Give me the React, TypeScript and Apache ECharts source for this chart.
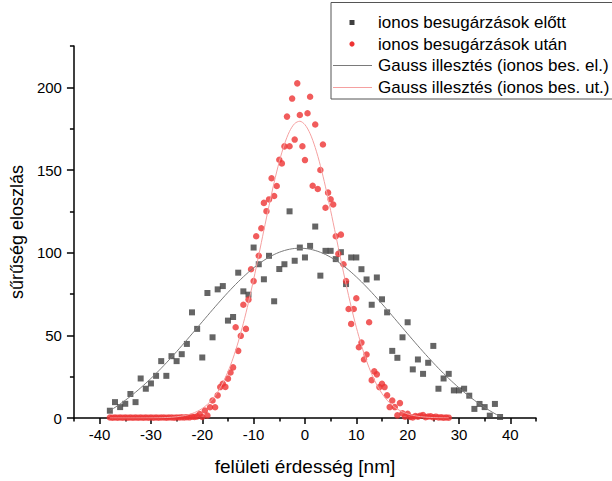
import React, { useEffect, useRef } from "react";
import * as echarts from "echarts";

// ---- data ----
const beforeX = [-38, -37, -36, -35, -34, -33, -32, -31, -30, -29, -28, -27, -26, -25, -24, -23, -22, -21, -20, -19, -18, -17, -16, -15, -14, -13, -12, -11, -10, -9, -8, -7, -6, -5, -4, -3, -2, -1, 0, 1, 2, 3, 4, 5, 6, 7, 8, 9, 10, 11, 12, 13, 14, 15, 16, 17, 18, 19, 20, 21, 22, 23, 24, 25, 26, 27, 28, 29, 30, 31, 32, 33, 34, 35, 36, 37, 38];
const beforeY = [4.4, 9.6, 6.6, 8.6, 14.5, 9.6, 23.9, 17.7, 20.9, 25.5, 34.4, 25.5, 37.4, 34.4, 38.6, 44.8, 63.9, 53.9, 36.6, 75.6, 48.8, 77.8, 79.8, 58.9, 61.1, 87.9, 76.6, 74.6, 103.1, 93, 83.9, 98.1, 70.6, 90.1, 93, 125, 95.1, 103.1, 97.1, 104.1, 115.8, 86.1, 101.1, 101.1, 96.1, 100.3, 81, 97.1, 97.1, 90, 83.8, 68.5, 85, 71.8, 63.9, 40.6, 36.4, 48.8, 57.9, 29.4, 35.4, 26.7, 33.4, 43.6, 17.7, 23.9, 26.7, 16.7, 16.7, 17.7, 13.5, 5.5, 8.5, 6.6, 1.4, 8.5, 0.6];

const afterX = [-38, -37.5, -37, -36.5, -36, -35.5, -35, -34.5, -34, -33.5, -33, -32.5, -32, -31.5, -31, -30.5, -30, -29.5, -29, -28.5, -28, -27.5, -27, -26.5, -26, -25.5, -25, -24.5, -24, -23.5, -23, -22.5, -22, -21.5, -21, -20.5, -20, -19.5, -19, -18.5, -18, -17.5, -17, -16.5, -16, -15.5, -15, -14.5, -14, -13.5, -13, -12.5, -12, -11.5, -11, -10.5, -10, -9.5, -9, -8.5, -8, -7.5, -7, -6.5, -6, -5.5, -5, -4.5, -4, -3.5, -3, -2.5, -2, -1.5, -1, -0.5, 0, 0.5, 1, 1.5, 2, 2.5, 3, 3.5, 4, 4.5, 5, 5.5, 6, 6.5, 7, 7.5, 8, 8.5, 9, 9.5, 10, 10.5, 11, 11.5, 12, 12.5, 13, 13.5, 14, 14.5, 15, 15.5, 16, 16.5, 17, 17.5, 18, 18.5, 19, 19.5, 20, 20.5, 21, 21.5, 22, 22.5, 23, 23.5, 24, 24.5, 25, 25.5, 26, 26.5, 27, 27.5, 28];
const afterY = [0.3, 0.2, 0.3, 0.2, 0.3, 0.2, 0.3, 0.2, 0.3, 0.2, 0.3, 0.2, 0.3, 0.2, 0.3, 0.2, 0.3, 0.2, 0.3, 0.2, 0.3, 0.3, 0.2, 0.3, 0.3, 0.2, 0.3, 0.3, 0.4, 0.3, 0.5, 0.4, 0.8, 0.6, 1.0, 2.4, 0.6, 4.5, 1.5, 6.5, 10.6, 6.5, 13.7, 18.7, 20.7, 18.8, 23.8, 27.5, 30.6, 54.9, 40.6, 49.7, 68.5, 53.9, 71.6, 90, 82.8, 109.9, 98.1, 114.8, 130.1, 125.1, 132.2, 145, 134.3, 140.3, 156.2, 154, 164.3, 182.3, 164.4, 193.2, 168.4, 202.4, 183.3, 164.4, 156, 184.3, 194.3, 140.5, 177.5, 138.5, 150, 165.4, 127.2, 136.3, 132.3, 129.1, 109.9, 99.3, 110.9, 93, 82.8, 65.9, 56.9, 65.9, 72.4, 42.8, 45.6, 35.4, 38.4, 57.9, 22.9, 28.2, 26.4, 18.7, 20.7, 18.7, 13.7, 6.6, 10.6, 6.6, 1.6, 9.0, 2.8, 0.8, 2.6, 0.6, 0.3, 1.2, 0.8, 1.4, 1.8, 0.5, 0.9, 1.0, 0.4, 0.8, 0.3, 0.4, 0.2, 0.3, 0.2];

const fitBeforeX = [-38, -37, -36, -35, -34, -33, -32, -31, -30, -29, -28, -27, -26, -25, -24, -23, -22, -21, -20, -19, -18, -17, -16, -15, -14, -13, -12, -11, -10, -9, -8, -7, -6, -5, -4, -3, -2, -1, 0, 1, 2, 3, 4, 5, 6, 7, 8, 9, 10, 11, 12, 13, 14, 15, 16, 17, 18, 19, 20, 21, 22, 23, 24, 25, 26, 27, 28, 29, 30, 31, 32, 33, 34, 35, 36, 37, 38];
const fitBeforeY = [4.43, 6.39, 8.48, 10.72, 13.08, 15.59, 18.24, 21.02, 23.92, 26.95, 30.1, 33.36, 36.72, 40.15, 43.67, 47.26, 50.88, 54.54, 58.2, 61.85, 65.47, 69.04, 72.53, 75.95, 79.23, 82.39, 85.37, 88.19, 90.8, 93.19, 95.35, 97.25, 98.89, 100.24, 101.31, 102.08, 102.54, 102.7, 102.54, 102.08, 101.31, 100.24, 98.89, 97.25, 95.35, 93.19, 90.8, 88.19, 85.37, 82.39, 79.23, 75.95, 72.53, 69.04, 65.47, 61.85, 58.2, 54.54, 50.88, 47.26, 43.67, 40.15, 36.72, 33.36, 30.1, 26.95, 23.92, 21.02, 18.24, 15.59, 13.08, 10.72, 8.48, 6.39, 4.43, 2.6, 0.9];

const fitAfterX = [-38, -37, -36, -35, -34, -33, -32, -31, -30, -29, -28, -27, -26, -25, -24, -23, -22, -21, -20, -19, -18, -17, -16, -15, -14, -13, -12, -11, -10, -9, -8, -7, -6, -5, -4, -3, -2, -1, 0, 1, 2, 3, 4, 5, 6, 7, 8, 9, 10, 11, 12, 13, 14, 15, 16, 17, 18, 19, 20, 21, 22, 23, 24, 25, 26, 27, 28];
const fitAfterY = [0, 0, 0, 0, 0, 0, 0.01, 0.03, 0.05, 0.1, 0.17, 0.28, 0.46, 0.74, 1.16, 1.78, 2.69, 3.98, 5.79, 8.24, 11.52, 15.79, 21.23, 28.0, 36.2, 46.0, 57.3, 69.9, 83.8, 98.5, 113.6, 128.4, 142.5, 155.1, 165.6, 173.4, 178.1, 179.5, 177.4, 172.0, 163.6, 152.7, 139.8, 125.5, 110.6, 95.5, 81.0, 67.3, 54.9, 43.9, 34.5, 26.5, 20.0, 14.8, 10.8, 7.7, 5.4, 3.69, 2.48, 1.64, 1.06, 0.67, 0.42, 0.26, 0.15, 0.09, 0.05];

const xMajorTicks = [-40, -30, -20, -10, 0, 10, 20, 30, 40];
const xMinorTicks = [-45, -35, -25, -15, -5, 5, 15, 25, 35, 45];
const yMajorTicks = [0, 50, 100, 150, 200];
const yMinorTicks = [25, 75, 125, 175, 225];

const legendLabels = [
  "ionos besugárzások előtt",
  "ionos besugárzások után",
  "Gauss illesztés (ionos bes. el.)",
  "Gauss illesztés (ionos bes. ut.)",
];

const FONT = "'Liberation Sans', Arial, sans-serif";
const BLACK_PT = "#3f3f3f";
const RED_PT = "#ee3333";
const BLACK_FIT = "#7a7a7a";
const RED_FIT = "#f5a0a0";

const zip = (xs: number[], ys: number[]) => xs.map((x, i) => [x, ys[i]]);

export default function App() {
  const ref = useRef<HTMLDivElement>(null);
  useEffect(() => {
    const chart = echarts.init(ref.current!, null, { renderer: "svg" });
    const axisLineStyle = { color: "#000", width: 1.5 };
    const legendRows = [22.5, 44, 65.5, 87.5];
    chart.setOption({
      animation: false,
      backgroundColor: "#fff",
      grid: { left: 71, right: 76, top: 46, bottom: 58, containLabel: false },
      xAxis: [
        {
          type: "value",
          min: -45,
          max: 45,
          position: "bottom",
          axisLine: { onZero: false, lineStyle: axisLineStyle },
          axisTick: { customValues: xMajorTicks, length: 6, lineStyle: axisLineStyle },
          axisLabel: { customValues: xMajorTicks, fontSize: 15, color: "#000", fontFamily: FONT, margin: 9 },
          splitLine: { show: false },
          name: "felületi érdesség [nm]",
          nameLocation: "middle",
          nameGap: 39,
          nameTextStyle: { fontSize: 19, color: "#000", fontFamily: FONT },
        },
        {
          type: "value",
          min: -45,
          max: 45,
          position: "bottom",
          axisLine: { show: false, onZero: false },
          axisTick: { customValues: xMinorTicks, length: 3.5, lineStyle: axisLineStyle },
          axisLabel: { show: false },
          splitLine: { show: false },
        },
      ],
      yAxis: [
        {
          type: "value",
          min: 0,
          max: 225,
          position: "left",
          axisLine: { onZero: false, lineStyle: axisLineStyle },
          axisTick: { customValues: yMajorTicks, length: 7, lineStyle: axisLineStyle },
          axisLabel: { customValues: yMajorTicks, fontSize: 15, color: "#000", fontFamily: FONT, margin: 12 },
          splitLine: { show: false },
          name: "sűrűség eloszlás",
          nameLocation: "middle",
          nameGap: 44,
          nameTextStyle: { fontSize: 18, color: "#000", fontFamily: FONT },
        },
        {
          type: "value",
          min: 0,
          max: 225,
          position: "left",
          axisLine: { show: false, onZero: false },
          axisTick: { customValues: yMinorTicks, length: 4, lineStyle: axisLineStyle },
          axisLabel: { show: false },
          splitLine: { show: false },
        },
      ],
      series: [
        {
          name: legendLabels[0],
          type: "scatter",
          symbol: "rect",
          symbolSize: 6,
          itemStyle: { color: BLACK_PT },
          data: zip(beforeX, beforeY),
          z: 2,
        },
        {
          name: legendLabels[1],
          type: "scatter",
          symbol: "circle",
          symbolSize: 6.5,
          itemStyle: { color: RED_PT },
          data: zip(afterX, afterY),
          z: 3,
        },
        {
          name: legendLabels[2],
          type: "line",
          showSymbol: false,
          smooth: 0.3,
          lineStyle: { color: BLACK_FIT, width: 1 },
          data: zip(fitBeforeX, fitBeforeY),
          z: 4,
        },
        {
          name: legendLabels[3],
          type: "line",
          showSymbol: false,
          smooth: 0.3,
          lineStyle: { color: RED_FIT, width: 1 },
          data: zip(fitAfterX, fitAfterY),
          z: 5,
        },
      ],
      graphic: [
        {
          type: "rect",
          shape: { x: 331, y: 2.5, width: 300, height: 96.5 },
          style: { fill: "#fff", stroke: "#555", lineWidth: 1 },
          z: 10,
        },
        {
          type: "rect",
          shape: { x: 349.5, y: legendRows[0] - 2.5, width: 5, height: 5 },
          style: { fill: BLACK_PT },
          z: 11,
        },
        {
          type: "circle",
          shape: { cx: 352, cy: legendRows[1], r: 2.6 },
          style: { fill: RED_PT },
          z: 11,
        },
        {
          type: "line",
          shape: { x1: 333, y1: legendRows[2], x2: 372, y2: legendRows[2] },
          style: { stroke: BLACK_FIT, lineWidth: 1 },
          z: 11,
        },
        {
          type: "line",
          shape: { x1: 333, y1: legendRows[3], x2: 372, y2: legendRows[3] },
          style: { stroke: RED_FIT, lineWidth: 1 },
          z: 11,
        },
        ...legendLabels.map((t, i) => ({
          type: "text",
          x: 378,
          y: legendRows[i],
          style: {
            text: t,
            fill: "#000",
            font: `17px ${FONT}`,
            textVerticalAlign: "middle",
            verticalAlign: "middle",
          },
          z: 11,
        })),
      ],
    });
    return () => chart.dispose();
  }, []);
  return (
    <div
      ref={ref}
      style={{ position: "fixed", left: 0, top: 0, width: 612, height: 481 }}
    />
  );
}
